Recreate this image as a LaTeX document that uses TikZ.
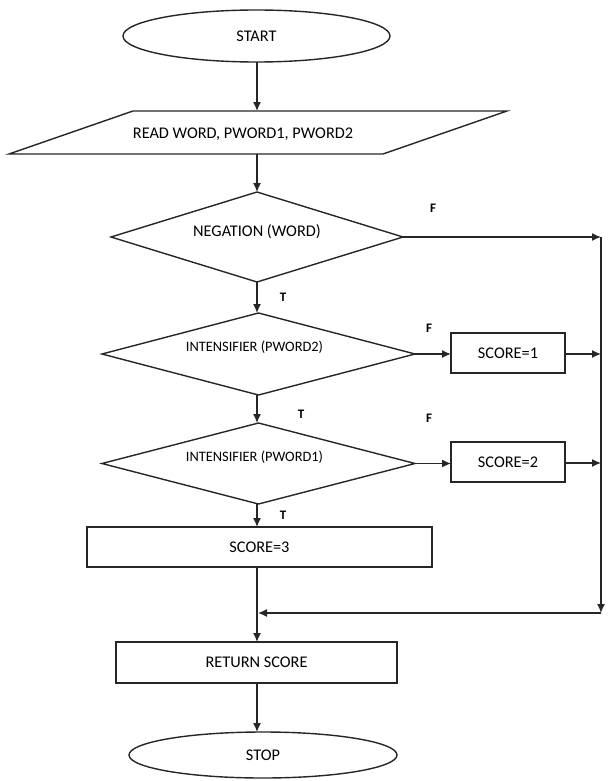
\documentclass[tikz,border=0pt]{standalone}
\usepackage{fontspec}
\setmainfont{Carlito}
\usetikzlibrary{shapes.geometric,arrows.meta}
\begin{document}
\begin{tikzpicture}[x=1bp,y=-1bp,
  every node/.style={inner sep=0pt,outer sep=0pt},
  lw/.style={line width=1.4bp,draw=black!85},
  term/.style={ellipse,lw},
  procbox/.style={rectangle,lw},
  dia/.style={diamond,lw},
  txt/.style={font=\fontsize{16.3bp}{19bp}\selectfont,text=black},
  stxt/.style={font=\fontsize{14.4bp}{17bp}\selectfont,text=black},
  lbl/.style={font=\fontsize{13bp}{15bp}\selectfont\bfseries,text=black},
  conn/.style={line width=1.4bp,draw=black!85},
  arr/.style={conn,-{Latex[length=9bp,width=8bp]}}
]
\useasboundingbox (0,0) rectangle (608,781);

% nodes
\node[term,minimum width=267bp,minimum height=52bp,txt] (start) at (256.5,36) {START};
\node[minimum width=498bp,minimum height=43bp] (read) at (258,132.5) {};
\draw[lw] (read.south west) -- ([xshift=-124bp]read.south east) -- (read.north east) -- ([xshift=124bp]read.north west) -- cycle;
\node[txt] (readtxt) at (243,134) {READ WORD, PWORD1, PWORD2};

\node[dia,minimum width=292bp,minimum height=90bp,
  label={[txt,yshift=5bp]center:NEGATION (WORD)}] (neg) at (257,237) {};
\node[dia,minimum width=313bp,minimum height=82bp,
  label={[stxt,yshift=7bp,xshift=-4bp]center:INTENSIFIER (PWORD2)}] (int2) at (258.5,354) {};
\node[dia,minimum width=313bp,minimum height=81bp,
  label={[stxt,yshift=6.5bp,xshift=-4bp]center:INTENSIFIER (PWORD1)}] (int1) at (258.5,463.5) {};

\node[procbox,minimum width=114bp,minimum height=40bp,txt] (s1) at (508,353) {SCORE=1};
\node[procbox,minimum width=114bp,minimum height=40bp,txt] (s2) at (508,462) {SCORE=2};
\node[procbox,minimum width=345bp,minimum height=40bp,txt] (s3) at (259.5,547) {SCORE=3};
\node[procbox,minimum width=281bp,minimum height=41bp,txt] (ret) at (256.5,662.5) {RETURN SCORE};
\node[term,minimum width=268bp,minimum height=46bp,txt] (stop) at (263,755) {STOP};

% right column coordinates
\coordinate (r1) at (601,237);
\coordinate (r2) at (601,354);
\coordinate (r3) at (601,463);
\coordinate (r4) at (601,613);
\coordinate (m) at (257,613);

% labels
\node[lbl] (f1) at (433,208) {F};
\node[lbl] (t1) at (283,297) {T};
\node[lbl] (f2) at (429,328) {F};
\node[lbl] (t2) at (301,414) {T};
\node[lbl] (f3) at (429,418) {F};
\node[lbl] (t3) at (283,515) {T};

% connectors
\draw[arr] (start.south -| 257,0) -- (257,111);
\draw[arr] (257,154) -- (neg.north);
\draw[arr] (neg.south) -- (neg.south |- int2.north);
\draw[arr] (int2.south -| 257,0) -- (257,423);
\draw[arr] (int1.south -| 257,0) -- (257,527);
\draw[conn] (s3.south -| m) -- (m);
\draw[arr] (m) -- (m |- ret.north);
\draw[arr] (ret.south -| m) -- (m |- stop.north);

\draw[arr] (neg.east) -- (r1);
\draw[arr] (r1) -- (r4);
\draw[arr] (int2.east) -- (s1.west |- int2.east);
\draw[arr] (s1.east |- r2) -- (r2);
\draw[arr] (int1.east) -- (s2.west |- int1.east);
\draw[arr] (s2.east |- r3) -- (r3);
\draw[arr] (r4) -- ([xshift=1bp]m);
\end{tikzpicture}
\end{document}
